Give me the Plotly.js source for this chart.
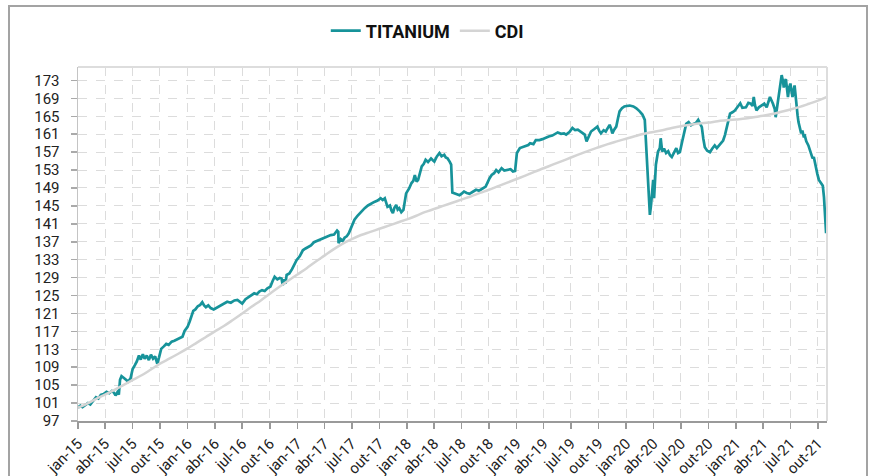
<!DOCTYPE html>
<html>
<head>
<meta charset="utf-8">
<script src="https://cdn.plot.ly/plotly-3.0.1.min.js"></script>
<style>
html,body{margin:0;padding:0;background:#fff;}
#wrap{position:relative;width:872px;height:476px;overflow:hidden;}
#chart{position:absolute;left:0;top:0;width:872px;height:476px;}
#frame{position:absolute;left:8px;top:5px;width:856px;height:490px;border:2px solid #a3a3a3;pointer-events:none;}
</style>
</head>
<body>
<div id="wrap"><div id="chart"></div><div id="frame"></div></div>
<script>
// TITANIUM series (dates, index values)
const tiDates = ['2015-01-01','2015-01-09','2015-01-16','2015-01-26','2015-02-03','2015-02-11','2015-02-20','2015-03-02','2015-03-10','2015-03-18','2015-03-27','2015-04-06','2015-04-15','2015-04-24','2015-05-01','2015-05-06','2015-05-12','2015-05-17','2015-05-21','2015-05-26','2015-06-03','2015-06-10','2015-06-17','2015-06-25','2015-07-02','2015-07-09','2015-07-16','2015-07-23','2015-07-29','2015-08-05','2015-08-11','2015-08-18','2015-08-25','2015-09-01','2015-09-08','2015-09-15','2015-09-22','2015-09-28','2015-10-05','2015-10-13','2015-10-22','2015-10-30','2015-11-09','2015-11-18','2015-11-27','2015-12-07','2015-12-15','2015-12-22',
'2016-01-01','2016-01-08','2016-01-14','2016-01-20','2016-01-27','2016-02-04','2016-02-12','2016-02-19','2016-02-25','2016-03-02','2016-03-10','2016-03-18','2016-03-28','2016-04-07','2016-04-18','2016-05-01','2016-05-12','2016-05-24','2016-06-05','2016-06-15','2016-06-23','2016-07-01','2016-07-12','2016-07-22','2016-08-01','2016-08-10','2016-08-19','2016-08-27','2016-09-05','2016-09-14','2016-09-23','2016-10-03','2016-10-10','2016-10-17','2016-10-26','2016-11-03','2016-11-09','2016-11-13','2016-11-18','2016-11-22','2016-11-26','2016-12-05','2016-12-14','2016-12-22','2016-12-29',
'2017-01-09','2017-01-19','2017-01-28','2017-02-06','2017-02-15','2017-02-25','2017-03-07','2017-03-19','2017-03-30','2017-04-10','2017-04-22','2017-05-03','2017-05-13','2017-05-17','2017-05-18','2017-05-25','2017-06-01','2017-06-07','2017-06-14','2017-06-21','2017-06-30','2017-07-10','2017-07-20','2017-07-31','2017-08-13','2017-08-24','2017-09-04','2017-09-14','2017-09-25','2017-10-05','2017-10-12','2017-10-19','2017-10-28','2017-11-05','2017-11-10','2017-11-15','2017-11-20','2017-11-26','2017-12-01','2017-12-06','2017-12-13','2017-12-20','2017-12-29',
'2018-01-08','2018-01-16','2018-01-22','2018-01-27','2018-02-02','2018-02-07','2018-02-14','2018-02-19','2018-02-26','2018-03-04','2018-03-12','2018-03-22','2018-03-28','2018-04-02','2018-04-10','2018-04-19','2018-04-26','2018-05-05','2018-05-10','2018-05-16','2018-05-23','2018-05-28','2018-06-01','2018-06-08','2018-06-16','2018-06-25','2018-07-03','2018-07-10','2018-07-19','2018-07-28','2018-08-07','2018-08-19','2018-08-29','2018-09-10','2018-09-20','2018-10-03','2018-10-10','2018-10-18','2018-10-25','2018-11-02','2018-11-12','2018-11-21','2018-12-03','2018-12-12','2018-12-20','2018-12-27',
'2019-01-02','2019-01-12','2019-01-24','2019-02-09','2019-02-15','2019-02-26','2019-03-06','2019-03-18','2019-03-28','2019-04-08','2019-04-18','2019-04-30','2019-05-10','2019-05-18','2019-05-29','2019-06-08','2019-06-15','2019-06-26','2019-07-06','2019-07-15','2019-07-24','2019-08-01','2019-08-09','2019-08-16','2019-08-22','2019-08-29','2019-09-06','2019-09-16','2019-09-27','2019-10-03','2019-10-09','2019-10-18','2019-10-25','2019-11-01','2019-11-07','2019-11-12','2019-11-16','2019-11-22','2019-11-29','2019-12-05','2019-12-10','2019-12-18','2019-12-26',
'2020-01-02','2020-01-13','2020-01-25','2020-02-04','2020-02-15','2020-02-24','2020-03-03','2020-03-06','2020-03-10','2020-03-13','2020-03-16','2020-03-18','2020-03-20','2020-03-24','2020-03-27','2020-03-31','2020-04-03','2020-04-06','2020-04-09','2020-04-16','2020-04-22','2020-04-25','2020-04-30','2020-05-06','2020-05-13','2020-05-20','2020-05-26','2020-06-01','2020-06-08','2020-06-16','2020-06-22','2020-06-28','2020-07-06','2020-07-13','2020-07-19','2020-07-27','2020-08-04','2020-08-12','2020-08-20','2020-08-28','2020-09-04','2020-09-09','2020-09-14','2020-09-19','2020-09-27','2020-10-06','2020-10-14','2020-10-22','2020-10-29','2020-11-09','2020-11-19','2020-11-25','2020-12-01','2020-12-07','2020-12-12','2020-12-20','2020-12-28',
'2021-01-07','2021-01-15','2021-01-22','2021-02-03','2021-02-11','2021-02-19','2021-02-25','2021-03-01','2021-03-05','2021-03-10','2021-03-18','2021-03-27','2021-04-05','2021-04-13','2021-04-19','2021-04-24','2021-05-04','2021-05-10','2021-05-13','2021-05-18','2021-05-21','2021-05-27','2021-06-02','2021-06-07','2021-06-09','2021-06-13','2021-06-16','2021-06-20','2021-06-23','2021-06-27','2021-07-01','2021-07-05','2021-07-08','2021-07-12','2021-07-15','2021-07-19','2021-07-21','2021-07-25','2021-07-28','2021-08-02','2021-08-06','2021-08-10','2021-08-14','2021-08-18','2021-08-23','2021-08-30','2021-09-03','2021-09-08','2021-09-13','2021-09-17','2021-09-21','2021-09-25','2021-09-29','2021-10-04','2021-10-08','2021-10-13','2021-10-17','2021-10-21','2021-10-25','2021-10-28'];
const tiValues = [100.0,100.4,100.1,100.7,101.0,100.7,101.5,102.3,102.0,102.8,103.0,103.5,103.2,103.7,103.3,102.7,103.4,102.9,106.2,107.0,106.6,106.1,105.8,106.5,108.6,109.4,110.3,111.6,110.7,111.9,110.9,111.6,110.6,111.8,110.9,111.4,109.8,111.2,113.1,113.6,114.2,114.0,114.7,114.9,115.2,115.4,115.8,117.1,
118.0,119.2,120.3,121.6,121.9,122.6,122.9,123.5,122.8,122.4,122.8,122.2,121.9,122.3,122.6,123.2,123.6,123.4,123.9,124.0,123.6,123.2,124.2,124.6,125.1,125.5,125.3,125.9,126.2,126.0,126.6,127.0,128.2,129.2,128.6,128.9,128.8,127.3,128.6,127.6,129.6,129.9,130.9,131.8,132.9,
133.8,135.1,135.5,135.9,136.2,136.9,137.2,137.5,137.8,138.1,138.5,138.6,139.5,139.2,136.7,137.6,137.2,137.9,138.2,138.9,140.2,141.9,142.8,143.6,144.5,145.1,145.6,145.9,146.2,146.7,146.3,146.7,144.8,145.1,144.0,143.4,144.6,145.2,144.2,144.5,143.6,144.1,147.8,
148.9,150.1,150.6,151.9,150.4,150.8,152.6,153.8,154.4,155.3,154.8,155.6,155.2,154.9,156.0,156.8,156.1,156.4,155.8,155.6,154.9,154.2,148.0,147.8,147.5,147.4,147.8,148.2,147.9,147.7,148.1,148.6,148.4,148.9,149.3,151.2,151.9,152.3,153.0,152.5,153.4,152.9,153.0,153.2,152.7,152.8,
156.8,157.9,158.2,158.6,159.0,158.8,159.7,159.7,159.9,160.3,160.5,160.7,161.0,161.4,161.1,161.2,160.9,161.5,162.4,161.9,162.0,161.6,161.3,160.9,159.4,160.5,161.6,162.1,162.7,161.8,161.2,161.9,161.6,162.4,163.1,162.2,161.2,162.0,162.7,164.6,166.1,166.8,167.2,
167.3,167.4,167.2,166.8,166.1,165.4,164.2,160.5,155.3,151.0,150.1,146.2,143.0,145.3,148.2,150.8,146.7,151.0,154.2,157.1,157.9,160.1,157.1,157.8,156.8,157.2,156.3,155.9,157.0,157.9,156.8,157.0,159.5,161.8,163.3,163.7,163.0,163.3,163.5,164.2,163.4,162.6,160.0,158.1,157.3,157.0,157.8,158.5,157.9,158.9,159.6,160.8,162.6,164.2,165.6,165.9,166.3,
167.2,167.9,166.9,167.0,168.0,167.8,167.3,169.3,167.5,166.3,167.0,167.4,167.8,167.0,168.2,169.3,167.8,166.6,164.8,167.2,168.5,171.0,174.2,172.6,171.4,172.9,173.3,171.0,169.3,171.4,172.3,170.6,169.3,170.8,171.9,169.2,167.0,165.2,163.7,161.8,161.2,161.8,160.6,160.7,159.4,158.5,157.6,156.6,155.6,155.9,154.4,153.1,152.1,150.8,150.3,149.8,149.5,146.9,142.5,138.9];

// CDI series (monthly)
const cdiDates = ['2015-01-01','2015-02-01','2015-03-01','2015-04-01','2015-05-01','2015-06-01','2015-07-01','2015-08-01','2015-09-01','2015-10-01','2015-11-01','2015-12-01',
'2016-01-01','2016-02-01','2016-03-01','2016-04-01','2016-05-01','2016-06-01','2016-07-01','2016-08-01','2016-09-01','2016-10-01','2016-11-01','2016-12-01',
'2017-01-01','2017-02-01','2017-03-01','2017-04-01','2017-05-01','2017-06-01','2017-07-01','2017-08-01','2017-09-01','2017-10-01','2017-11-01','2017-12-01',
'2018-01-01','2018-02-01','2018-03-01','2018-04-01','2018-05-01','2018-06-01','2018-07-01','2018-08-01','2018-09-01','2018-10-01','2018-11-01','2018-12-01',
'2019-01-01','2019-02-01','2019-03-01','2019-04-01','2019-05-01','2019-06-01','2019-07-01','2019-08-01','2019-09-01','2019-10-01','2019-11-01','2019-12-01',
'2020-01-01','2020-02-01','2020-03-01','2020-04-01','2020-05-01','2020-06-01','2020-07-01','2020-08-01','2020-09-01','2020-10-01','2020-11-01','2020-12-01',
'2021-01-01','2021-02-01','2021-03-01','2021-04-01','2021-05-01','2021-06-01','2021-07-01','2021-08-01','2021-09-01','2021-10-01','2021-10-29'];
const cdiValues = [100.0,100.9,101.9,102.9,103.9,105.0,106.1,107.2,108.5,109.8,110.9,112.0,
113.2,114.5,115.7,117.0,118.2,119.6,121.0,122.5,123.9,125.4,126.9,128.3,
129.7,131.1,132.5,133.9,135.3,136.6,137.6,138.5,139.2,139.9,140.6,141.3,
142.0,142.8,143.6,144.3,145.0,145.7,146.4,147.1,147.9,148.6,149.4,150.2,
151.0,151.8,152.6,153.4,154.2,155.0,155.8,156.6,157.4,158.1,158.8,159.4,
160.0,160.6,161.1,161.5,161.9,162.4,162.8,163.1,163.4,163.6,163.9,164.1,
164.3,164.5,164.8,165.1,165.5,166.0,166.5,167.1,167.8,168.5,169.3];

// Axis ticks
const xTickVals = ['2015-01-01','2015-04-01','2015-07-01','2015-10-01','2016-01-01','2016-04-01','2016-07-01','2016-10-01','2017-01-01','2017-04-01','2017-07-01','2017-10-01','2018-01-01','2018-04-01','2018-07-01','2018-10-01','2019-01-01','2019-04-01','2019-07-01','2019-10-01','2020-01-01','2020-04-01','2020-07-01','2020-10-01','2021-01-01','2021-04-01','2021-07-01','2021-10-01'];
const xTickText = ['jan-15','abr-15','jul-15','out-15','jan-16','abr-16','jul-16','out-16','jan-17','abr-17','jul-17','out-17','jan-18','abr-18','jul-18','out-18','jan-19','abr-19','jul-19','out-19','jan-20','abr-20','jul-20','out-20','jan-21','abr-21','jul-21','out-21'];
const yTickVals = [97,101,105,109,113,117,121,125,129,133,137,141,145,149,153,157,161,165,169,173];

const traces = [
  {x: tiDates, y: tiValues, name: 'TITANIUM', type: 'scatter', mode: 'lines',
   line: {color: '#17939a', width: 2.7}},
  {x: cdiDates, y: cdiValues, name: 'CDI', type: 'scatter', mode: 'lines',
   line: {color: '#d4d4d4', width: 2.5, shape: 'spline'}}
];

const layout = {
  width: 872, height: 476,
  margin: {l: 78, r: 45, t: 67, b: 55},
  paper_bgcolor: '#ffffff', plot_bgcolor: '#ffffff',
  font: {family: 'Roboto, "Noto Sans", sans-serif', size: 15, color: '#222'},
  showlegend: true,
  legend: {orientation: 'h', xref: 'container', yref: 'container', x: 0.49, xanchor: 'center', y: 0.935, yanchor: 'middle',
    font: {family: 'Roboto, sans-serif', size: 18, color: '#111', weight: 'bold'}, itemwidth: 30},
  xaxis: {type: 'date', range: ['2015-01-01', '2021-10-31'], tickmode: 'array', tickvals: xTickVals, ticktext: xTickText,
    tickangle: -45, ticks: 'outside', ticklen: 6, tickcolor: '#999', tickwidth: 1.5,
    showline: true, linecolor: '#9a9a9a', linewidth: 2,
    showgrid: true, gridcolor: '#dcdcdc', griddash: 'dash', gridwidth: 1, zeroline: false,
    tickfont: {size: 15, color: '#222'}},
  yaxis: {range: [97, 176], tickmode: 'array', tickvals: yTickVals, ticks: 'outside', ticklen: 6, tickcolor: '#aaa', tickwidth: 1.5,
    showline: true, linecolor: '#c4c4c4', linewidth: 1.5, ticklabelstandoff: 8,
    showgrid: true, gridcolor: '#dcdcdc', griddash: 'dash', gridwidth: 1, zeroline: false,
    tickfont: {size: 15, color: '#222'}},
  shapes: [
    {type: 'line', xref: 'paper', yref: 'paper', x0: 0, x1: 1, y0: 1, y1: 1, line: {color: '#dddddd', width: 2}},
    {type: 'line', xref: 'paper', yref: 'paper', x0: 1, x1: 1, y0: 0, y1: 1, line: {color: '#dddddd', width: 2}}
  ]
};

Plotly.newPlot('chart', traces, layout, {displayModeBar: false, staticPlot: true});
</script>
</body>
</html>
